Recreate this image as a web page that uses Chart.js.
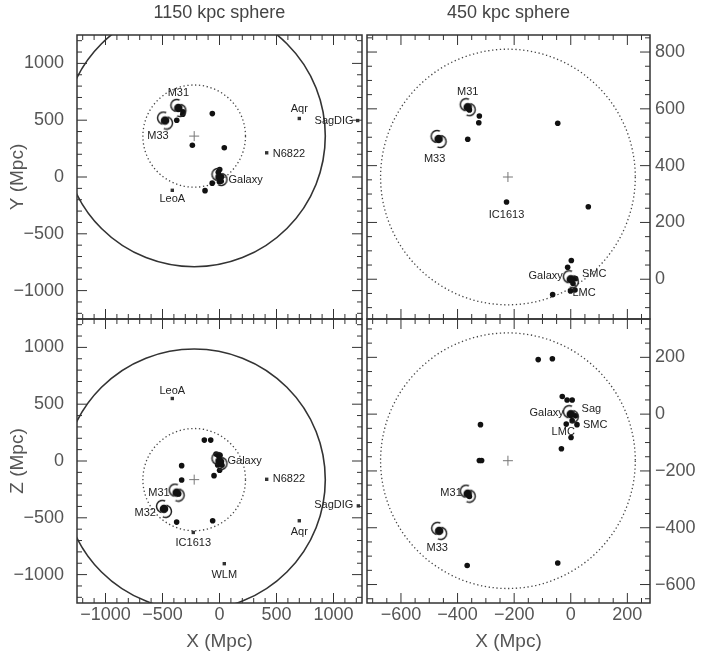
<!DOCTYPE html>
<html>
<head>
<meta charset="utf-8">
<script src="https://cdn.jsdelivr.net/npm/chart.js@4.4.1/dist/chart.umd.min.js"></script>
<style>
  html, body { margin: 0; padding: 0; background: #fff; }
  #wrap { position: relative; width: 709px; height: 661px; }
  #wrap canvas { position: absolute; left: 0; top: 0; }
</style>
</head>
<body>
<div id="wrap">
  <canvas id="tl" width="709" height="661"></canvas>
  <canvas id="tr" width="709" height="661"></canvas>
  <canvas id="bl" width="709" height="661"></canvas>
  <canvas id="br" width="709" height="661"></canvas>
</div>
<script>
// sphere centre (kpc) and radii
const sphereX = -222, sphereY = 360, sphereZ = -164;
const sphereRadii = [1150, 450];

// tick labels
const wideTicks = [-1000, -500, 0, 500, 1000];
const zoomXTicks = [-600, -400, -200, 0, 200];
const zoomYTicks = [0, 200, 400, 600, 800];
const zoomZTicks = [-600, -400, -200, 0, 200];

// ---- 1150 kpc sphere, X-Y ----
const tlSpiralNames = ['M31', 'M33', 'Galaxy'];
const tlSpiralX = [-361, -478, 0];
const tlSpiralY = [608, 497, 0];
const tlDotX = [-358, -320, -322, -375, -63, -238, 42, -127, 2, -11, -64, -1, 15, 17, 8];
const tlDotY = [596, 575, 552, 500, 558, 280, 257, -120, 66, 42, -54, -41, -38, 2, -15];
const tlFarNames = ['N6822', 'Aqr', 'SagDIG', 'LeoA'];
const tlFarX = [414, 700, 1212, -414];
const tlFarY = [213, 515, 497, -117];

// ---- 1150 kpc sphere, X-Z ----
const blSpiralNames = ['M31', 'M32', 'Galaxy'];
const blSpiralX = [-376, -487, 0];
const blSpiralZ = [-278, -421, 0];
const blDotX = [-133, -77, -48, -332, -332, -376, -60, -30, -13, 5, 17, 5, 22, -16, 1, -358];
const blDotZ = [184, 184, -129, -41, -167, -538, -526, 62, 50, 50, -6, -23, -37, -35, -82, -290];
const blFarNames = ['LeoA', 'IC1613', 'N6822', 'SagDIG', 'Aqr', 'WLM'];
const blFarX = [-414, -230, 414, 1218, 700, 42];
const blFarZ = [550, -629, -161, -395, -526, -904];

// ---- 450 kpc sphere, X-Y ----
const trSpiralNames = ['M31', 'M33', 'Galaxy'];
const trSpiralX = [-364, -467, 0];
const trSpiralY = [606, 494, 0];
const trDotNames = ['', '', '', '', '', 'IC1613', '', '', '', '', 'LMC', 'SMC', '', ''];
const trDotX = [-358, -323, -325, -364, -46, -227, 62, 2, -11, -64, -1, 15, 17, 8];
const trDotY = [596, 575, 551, 493, 549, 272, 255, 66, 42, -54, -41, -38, 2, -15];

// ---- 450 kpc sphere, X-Z ----
const brSpiralNames = ['M31', 'M33', 'Galaxy'];
const brSpiralX = [-364, -465, 0];
const brSpiralZ = [-280, -411, 0];
const brDotNames = ['', '', '', '', '', 'Sag', '', 'SMC', 'LMC', '', '', '', '', '', '', '', ''];
const brDotX = [-115, -65, -30, -13, 5, 17, 5, 22, -16, 1, -33, -319, -323, -315, -366, -46, -358];
const brDotZ = [192, 195, 62, 50, 50, -6, -23, -37, -35, -82, -122, -37, -163, -163, -533, -524, -290];

// label placement: [dx, dy, align] in pixels
const labelPlace = {
  tl: { M31: [0, -15, 'center'], M33: [-7, 15, 'center'], Galaxy: [9, 3, 'left'], N6822: [6, 1, 'left'],
        Aqr: [0, -10, 'center'], SagDIG: [-4, 0, 'right'], LeoA: [0, 9, 'center'] },
  bl: { M31: [-7, 0, 'right'], M32: [-8, 4, 'right'], Galaxy: [8, 0, 'left'], LeoA: [0, -8, 'center'],
        N6822: [6, 0, 'left'], SagDIG: [-5, -1, 'right'], Aqr: [0, 11, 'center'],
        IC1613: [0, 11, 'center'], WLM: [0, 11, 'center'] },
  tr: { M31: [0, -15, 'center'], M33: [-4, 20, 'center'], IC1613: [0, 13, 'center'],
        Galaxy: [-8, -3, 'right'], SMC: [7, -16, 'left'], LMC: [2, 2, 'left'] },
  br: { Galaxy: [-7, -1, 'right'], Sag: [6, -7, 'left'], SMC: [6, 0, 'left'], LMC: [-3, 8, 'center'],
        M31: [-6, -1, 'right'], M33: [-2, 17, 'center'] }
};

const W = 709, H = 661;
const FONT = '"Liberation Sans", Arial, sans-serif';
const INK = '#333';

function pts(xs, ys, names) {
  return xs.map((x, i) => ({ x: x, y: ys[i], name: names ? names[i] : '' }));
}

function spiralGlyph() {
  const c = document.createElement('canvas');
  c.width = 20; c.height = 20;
  const g = c.getContext('2d');
  g.fillStyle = '#111';
  g.strokeStyle = '#222';
  g.lineWidth = 1.5;
  g.beginPath(); g.arc(10, 10, 4.3, 0, Math.PI * 2); g.fill();
  g.beginPath(); g.arc(8.5, 7.5, 6, -0.35 * Math.PI, 0.55 * Math.PI, true); g.stroke();
  g.beginPath(); g.arc(11.5, 12.5, 6, 0.65 * Math.PI, 1.55 * Math.PI, true); g.stroke();
  return c;
}
const spiral = spiralGlyph();

const fmt = v => String(v).replace('-', '\u2212');

const panelPlugin = {
  id: 'panel',
  beforeDatasetsDraw(chart, args, o) {
    const { ctx, chartArea: a, scales: { x, y } } = chart;
    ctx.save();
    ctx.beginPath();
    ctx.rect(a.left, a.top, a.right - a.left, a.bottom - a.top);
    ctx.clip();
    const cx = x.getPixelForValue(o.cx), cy = y.getPixelForValue(o.cy);
    o.radii.forEach(R => {
      const rx = Math.abs(x.getPixelForValue(o.cx + R) - cx);
      const ry = Math.abs(y.getPixelForValue(o.cy + R) - cy);
      ctx.beginPath();
      ctx.ellipse(cx, cy, rx, ry, 0, 0, Math.PI * 2);
      if (R < 1000) {
        ctx.setLineDash([1.3, 2.6]);
        ctx.lineWidth = 1.3;
        ctx.strokeStyle = '#444';
      } else {
        ctx.setLineDash([]);
        ctx.lineWidth = 1.6;
        ctx.strokeStyle = '#333';
      }
      ctx.stroke();
    });
    ctx.restore();
  },
  afterDatasetsDraw(chart, args, o) {
    const { ctx, chartArea: a, scales: { x, y } } = chart;
    ctx.save();
    // names
    ctx.font = '11px ' + FONT;
    ctx.fillStyle = '#222';
    ctx.textBaseline = 'middle';
    chart.data.datasets.forEach(ds => {
      ds.data.forEach(p => {
        if (!p.name) return;
        const pl = o.labels[p.name];
        if (!pl) return;
        ctx.textAlign = pl[2];
        ctx.fillText(p.name, x.getPixelForValue(p.x) + pl[0], y.getPixelForValue(p.y) + pl[1]);
      });
    });
    // frame
    ctx.strokeStyle = INK;
    ctx.lineWidth = 1.5;
    ctx.strokeRect(a.left, a.top, a.right - a.left, a.bottom - a.top);
    // inward ticks
    ctx.lineWidth = 1;
    const tick = (s, step, major, horiz) => {
      for (let v = Math.ceil(s.min / step) * step; v <= s.max; v += step) {
        const p = s.getPixelForValue(v);
        const len = (Math.abs(v) % major === 0) ? 10 : 5;
        ctx.beginPath();
        if (horiz) {
          ctx.moveTo(p, a.bottom); ctx.lineTo(p, a.bottom - len);
          ctx.moveTo(p, a.top); ctx.lineTo(p, a.top + len);
        } else {
          ctx.moveTo(a.left, p); ctx.lineTo(a.left + len, p);
          ctx.moveTo(a.right, p); ctx.lineTo(a.right - len, p);
        }
        ctx.stroke();
      }
    };
    tick(x, o.minor, o.major, true);
    tick(y, o.minor, o.major, false);
    ctx.restore();
  }
};

function panel(id, cfg) {
  const isLeft = cfg.side === 'left';
  const isTop = cfg.row === 'top';
  const a = cfg.area;
  const tickFont = { family: FONT, size: 18 };
  new Chart(document.getElementById(id), {
    type: 'scatter',
    data: {
      datasets: [
        { data: cfg.spirals, pointStyle: spiral, pointRadius: 6 },
        { data: cfg.dots, pointStyle: 'circle', pointRadius: 2.8, backgroundColor: '#111', borderWidth: 0 },
        { data: cfg.far || [], pointStyle: 'rect', pointRadius: 2.4, backgroundColor: '#333', borderWidth: 0 },
        { data: [{ x: cfg.cx, y: cfg.cy }], pointStyle: 'cross', pointRadius: 5, borderColor: '#777', borderWidth: 1 }
      ]
    },
    plugins: [panelPlugin],
    options: {
      responsive: false,
      animation: false,
      devicePixelRatio: 1,
      events: [],
      layout: {
        padding: {
          left: isLeft ? 0 : a.left,
          right: isLeft ? W - a.right : 0,
          top: isTop ? 0 : a.top,
          bottom: isTop ? H - a.bottom : 0
        }
      },
      plugins: {
        legend: { display: false },
        tooltip: { enabled: false },
        title: {
          display: isTop,
          text: cfg.title || '',
          fullSize: false,
          color: '#444',
          font: { family: FONT, size: 18, weight: 'normal' },
          padding: { top: 2, bottom: 11.4 }
        },
        panel: {
          cx: cfg.cx, cy: cfg.cy, radii: cfg.radii,
          minor: cfg.minor, major: cfg.major, labels: cfg.labels
        }
      },
      scales: {
        x: {
          type: 'linear', min: cfg.xMin, max: cfg.xMax, position: 'bottom',
          display: !isTop,
          grid: { display: false, drawTicks: false },
          border: { display: false },
          ticks: { autoSkip: false, maxRotation: 0, padding: 1, color: '#555', font: tickFont, callback: fmt },
          title: { display: true, text: 'X (Mpc)', color: '#555', font: { family: FONT, size: 19 }, padding: { top: 0, bottom: 8 } },
          afterBuildTicks: s => { s.ticks = cfg.xTicks.map(v => ({ value: v })); },
          afterFit: s => { s.height = isTop ? 0 : H - a.bottom; }
        },
        y: {
          type: 'linear', min: cfg.yMin, max: cfg.yMax, position: isLeft ? 'left' : 'right',
          grid: { display: false, drawTicks: false },
          border: { display: false },
          ticks: { autoSkip: false, padding: isLeft ? 13 : 5, color: '#555', font: tickFont, callback: fmt },
          title: { display: isLeft, text: cfg.yTitle || '', color: '#555', font: { family: FONT, size: 19 }, padding: { top: 6, bottom: 0 } },
          afterBuildTicks: s => { s.ticks = cfg.yTicks.map(v => ({ value: v })); },
          afterFit: s => { s.width = isLeft ? a.left : W - a.right; }
        }
      }
    }
  });
}

panel('tl', {
  side: 'left', row: 'top', area: { left: 77, right: 362, top: 35, bottom: 319 },
  title: '1150 kpc sphere', yTitle: 'Y (Mpc)',
  xMin: -1250, xMax: 1250, yMin: -1250, yMax: 1250, xTicks: wideTicks, yTicks: wideTicks,
  minor: 100, major: 500, cx: sphereX, cy: sphereY, radii: sphereRadii,
  spirals: pts(tlSpiralX, tlSpiralY, tlSpiralNames),
  dots: pts(tlDotX, tlDotY),
  far: pts(tlFarX, tlFarY, tlFarNames),
  labels: labelPlace.tl
});

panel('bl', {
  side: 'left', row: 'bottom', area: { left: 77, right: 362, top: 319, bottom: 603 },
  yTitle: 'Z (Mpc)',
  xMin: -1250, xMax: 1250, yMin: -1250, yMax: 1250, xTicks: wideTicks, yTicks: wideTicks,
  minor: 100, major: 500, cx: sphereX, cy: sphereZ, radii: sphereRadii,
  spirals: pts(blSpiralX, blSpiralZ, blSpiralNames),
  dots: pts(blDotX, blDotZ),
  far: pts(blFarX, blFarZ, blFarNames),
  labels: labelPlace.bl
});

panel('tr', {
  side: 'right', row: 'top', area: { left: 367, right: 650, top: 35, bottom: 319 },
  title: '450 kpc sphere',
  xMin: -720, xMax: 280, yMin: -140, yMax: 860, xTicks: zoomXTicks, yTicks: zoomYTicks,
  minor: 50, major: 200, cx: sphereX, cy: sphereY, radii: [sphereRadii[1]],
  spirals: pts(trSpiralX, trSpiralY, trSpiralNames),
  dots: pts(trDotX, trDotY, trDotNames),
  labels: labelPlace.tr
});

panel('br', {
  side: 'right', row: 'bottom', area: { left: 367, right: 650, top: 319, bottom: 603 },
  xMin: -720, xMax: 280, yMin: -665, yMax: 335, xTicks: zoomXTicks, yTicks: zoomZTicks,
  minor: 50, major: 200, cx: sphereX, cy: sphereZ, radii: [sphereRadii[1]],
  spirals: pts(brSpiralX, brSpiralZ, brSpiralNames),
  dots: pts(brDotX, brDotZ, brDotNames),
  labels: labelPlace.br
});
</script>
</body>
</html>
